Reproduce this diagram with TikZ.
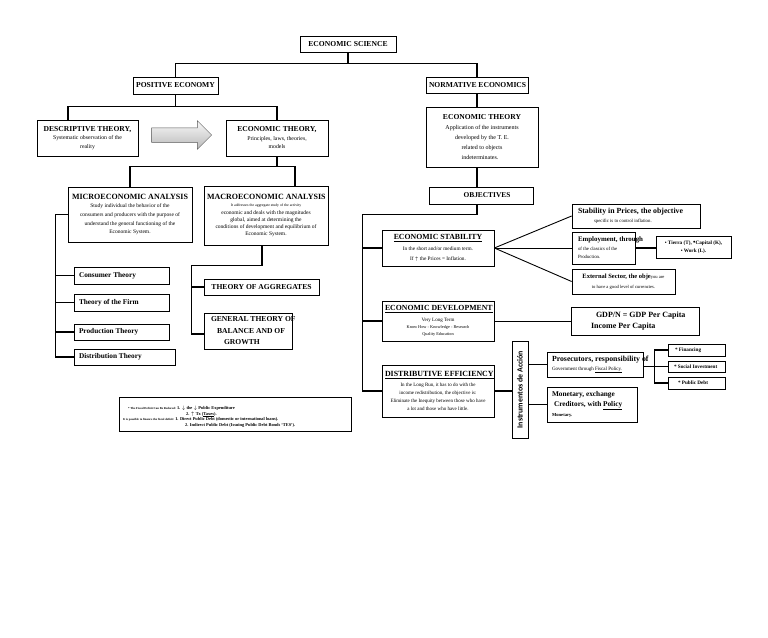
\documentclass[tikz,border=0pt]{standalone}
\usepackage{fontspec}
\setmainfont{Liberation Serif}
\newfontfamily\sansf{Carlito}
\usetikzlibrary{shapes.arrows}

\newcommand\boxtitle[2][7.6]{{\fontsize{#1}{9}\selectfont\bfseries\mbox{#2}\par}}
\newcommand\boxbody[3]{{\fontsize{#1}{#2}\selectfont #3\par}}

\tikzset{
  box/.style={draw, line width=0.75pt, inner xsep=3pt, inner ysep=0pt, align=flush center},
  sub/.style={box, align=flush left, inner xsep=5pt},
  conn/.style={line width=1.5pt},
  link/.style={line width=0.9pt},
  notetext/.style={anchor=west, inner sep=0pt, font=\bfseries}
}

\begin{document}
\begin{tikzpicture}[x=1pt, y=-1pt]
\path[use as bounding box, fill=white] (0,0) rectangle (768,637);

% top levels
\node[box, text width=90pt, minimum height=16pt] (sci) at (348,44) {\boxtitle{ECONOMIC SCIENCE}};
\node[box, text width=79pt, minimum height=17pt] (pos) at (175.5,85.5) {\boxtitle{POSITIVE ECONOMY}};
\node[box, text width=96pt, minimum height=16pt] (norm) at (477,85) {\boxtitle{NORMATIVE ECONOMICS}};

% positive economy
\node[box, text width=95pt, minimum height=36pt] (desc) at (87.5,138) {\boxtitle{DESCRIPTIVE THEORY,}\boxbody{5.8}{8.5}{Systematic observation of the\\reality}};
\node[box, text width=96pt, minimum height=36pt] (etheo) at (277,138) {\boxtitle{ECONOMIC THEORY,}\boxbody{5.8}{8.5}{Principles, laws, theories,\\models}};
\node[single arrow, draw=gray!70!black, line width=0.5pt, top color=gray!5, bottom color=gray!55, minimum height=60pt, single arrow head extend=7pt, inner xsep=0pt, inner ysep=7pt] (arr) at (178,135) {};

\node[box, text width=118pt, minimum height=55pt] (micro) at (130,214.5) {\boxtitle[8]{MICROECONOMIC ANALYSIS}\boxbody{5.5}{8.7}{Study individual the behavior of the\\consumers and producers with the purpose of\\understand the general functioning of the\\Economic System.}};
\node[box, text width=118pt, minimum height=59pt] (macro) at (266,215.5) {\boxtitle[8]{MACROECONOMIC ANALYSIS}\boxbody{3.8}{7.5}{It addresses the aggregate study of the activity}\boxbody{5.5}{7.2}{economic and deals with the magnitudes\\global, aimed at determining the\\conditions of development and equilibrium of\\Economic System.}};

\node[sub, text width=85pt, minimum height=17pt] (cons) at (121.5,275.5) {\boxtitle[7.3]{Consumer Theory}};
\node[sub, text width=85pt, minimum height=17pt] (firm) at (121.5,302.5) {\boxtitle[7.3]{Theory of the Firm}};
\node[sub, text width=85pt, minimum height=16pt] (prod) at (121.5,332) {\boxtitle[7.3]{Production Theory}};
\node[sub, text width=91pt, minimum height=16pt] (dist) at (124.5,357) {\boxtitle[7.3]{Distribution Theory}};

\node[box, text width=109pt, minimum height=16pt] (aggr) at (261.5,287) {\boxtitle{THEORY OF AGGREGATES}};
\node[box, align=flush left, inner xsep=7pt, text width=74pt, minimum height=36pt] (gen) at (248,331) {{\fontsize{7.6}{11.5}\selectfont\bfseries \mbox{GENERAL THEORY OF}\\\hspace*{6pt}\mbox{BALANCE AND OF}\\\hspace*{13pt}GROWTH\par}};

% normative economics
\node[box, text width=106pt, minimum height=60pt] (neth) at (482,137) {\boxtitle{ECONOMIC THEORY}\boxbody{6}{10}{Application of the instruments\hspace*{6pt}\\developed by the T. E.\hspace*{18pt}\\related to objects\hspace*{32pt}\\indeterminates.\hspace*{4pt}}};
\node[box, text width=98pt, minimum height=17pt] (obj) at (481,195.5) {\boxtitle[7.4]{\hspace*{12pt}OBJECTIVES}};

\node[box, text width=106pt, minimum height=36pt] (stab) at (438,248) {\boxtitle[7.8]{\underline{ECONOMIC STABILITY}}\boxbody{5.3}{10.5}{In the short and/or medium term.\\If $\uparrow$ the Prices = Inflation.}};
\node[box, text width=106pt, minimum height=40pt] (dev) at (438,321) {\boxtitle[7.8]{\underline{ECONOMIC DEVELOPMENT}}\boxbody{5}{11}{Very Long Term}\boxbody{4.3}{7}{Know How - Knowledge - Research\\Quality Education}};
\node[box, text width=106pt, minimum height=52pt] (deff) at (438,391) {\boxtitle[7.9]{\underline{DISTRIBUTIVE EFFICIENCY}}\vspace{2pt}\boxbody{5}{8.2}{In the Long Run, it has to do with the\\income redistribution, the objective is:\\\mbox{Eliminate the Inequity between those who have}\\a lot and those who have little.}};

\node[box, align=flush left, inner xsep=6pt, text width=116pt, minimum height=24pt] (price) at (636,216) {\boxtitle[7.8]{Stability in Prices, the objective}\boxbody{4.8}{8.5}{\hspace*{16pt}specific is to control inflation.}};
\node[box, align=flush left, inner xsep=6pt, text width=51pt, minimum height=32pt] (empl) at (603.5,248) {\boxtitle[6.9]{Employment, through}\boxbody{4.8}{8.5}{\mbox{of the classics of the}\\Production.}};
\node[box, text width=97pt, minimum height=25pt] (ext) at (623.5,281.5) {\boxtitle[6.5]{External Sector, the obje{\mdseries\fontsize{4.6}{9}\selectfont you are}}\boxbody{4.6}{10}{to have a good level of currencies.}};
\node[box, text width=69pt, minimum height=22pt] (land) at (693.5,247) {\boxbody{5.2}{8}{\bfseries \mbox{\textbullet{} Tierra (T), {\fontsize{7}{7}\selectfont\textbullet}Capital (K),}\\\textbullet{} Work (L).}};

\node[box, align=flush left, inner xsep=6pt, text width=116pt, minimum height=28pt] (gdp) at (635,321) {{\fontsize{8}{11}\selectfont\bfseries \hspace*{19pt}GDP/N = GDP Per Capita\\\hspace*{14pt}Income Per Capita\par}};

\node[box, rotate=90, minimum width=97pt, minimum height=16pt, inner sep=0pt, font=\sansf\bfseries\fontsize{7.9}{9}\selectfont] (instr) at (520,389.5) {Instrumentos de Acción};
\node[box, align=flush left, inner xsep=5pt, text width=86pt, minimum height=25pt] (fisc) at (595,364.5) {\boxtitle[7.8]{Prosecutors, responsibility of}\boxbody{5}{9}{\mbox{Government through \underline{Fiscal Policy.}}}};
\node[box, align=flush left, inner xsep=5pt, text width=80pt, minimum height=35pt] (mon) at (592,404.5) {{\fontsize{7.3}{10}\selectfont\bfseries \mbox{Monetary, exchange}\\\hspace*{2pt}\mbox{Creditors, with \underline{Policy}}\par}\boxbody{4.6}{10}{\bfseries Monetary.}};

\node[box, align=flush left, inner xsep=7pt, text width=43pt, minimum height=12pt] (fin) at (696.5,350) {\boxtitle[5.2]{* Financing}};
\node[box, align=flush left, inner xsep=6pt, text width=45pt, minimum height=11pt] (soc) at (696.5,366.5) {\boxtitle[5.2]{* Social Investment}};
\node[box, align=flush left, inner xsep=10pt, text width=37pt, minimum height=12pt] (debt) at (696.5,383) {\boxtitle[5.2]{* Public Debt}};

% note on the fiscal deficit
\node[box, minimum width=232pt, minimum height=34pt] (note) at (235,414) {};
\node[notetext] (fda) at (128,408) {{\fontsize{3}{4}\selectfont * The Fiscal Deficit Can Be Reduced: }{\fontsize{4.4}{5}\selectfont 1. $\downarrow$ the $\downarrow$ Public Expenditure}};
\node[notetext] (fdb) at (186,414.5) {\fontsize{4.4}{5}\selectfont 2. $\uparrow$ Tx (\underline{Taxes}).};
\node[notetext] (fdc) at (123,419.5) {{\fontsize{3}{4}\selectfont It is possible to finance the fiscal deficit: }{\fontsize{4.4}{5}\selectfont 1. Direct Public Debt (domestic or international loans).}};
\node[notetext] (fdd) at (185,425.5) {\fontsize{4.4}{5}\selectfont 2. Indirect Public Debt (Issuing Public Debt Bonds `TES').};

% connectors
\draw[conn] (sci.south) -- ++(0,12);
\draw[conn] (pos.north) -- ++(0,-13) -| (norm.north);
\draw[conn] (pos.south) -- ++(0,13);
\draw[conn] ([xshift=-19.5pt]desc.north) -- ++(0,-13) -| (etheo.north);
\draw[conn] (etheo.south) -- ++(0,11);
\draw[conn] (micro.north) -- ++(0,-20) -| ([xshift=29pt]macro.north);

\draw[conn] (micro.west) -- ++(-12,0) coordinate (mspine) |- (dist.west);
\foreach \n in {cons,firm,prod}
  \draw[conn] (mspine |- \n.west) -- (\n.west);

\draw[conn] ([xshift=-4pt]macro.south) -- ++(0,20) -| ([xshift=-12pt,yshift=-3pt]gen.west) -- ([yshift=-3pt]gen.west);
\draw[conn] ([xshift=-12pt]aggr.west) -- (aggr.west);

\draw[conn] (norm.south) -- (norm.south |- neth.north);
\draw[conn] (norm.south |- neth.south) -- (norm.south |- obj.north);
\draw[conn] (norm.south |- obj.south) -- ++(0,10) -| ([xshift=-19pt]deff.west) -- (deff.west);
\draw[conn] ([xshift=-19pt]stab.west) -- (stab.west);
\draw[conn] ([xshift=-19pt]dev.west) -- (dev.west);

\foreach \n in {price,empl,ext}
  \draw[link] (stab.east) -- (\n.west);
\draw[conn] (empl.east) -- (empl.east -| land.west);
\draw[link, line width=0.6pt] (dev.east) -- (gdp.west);

\draw[conn] (deff.east) -- (deff.east -| instr.north);
\draw[link] (instr.south |- fisc.west) -- (fisc.west);
\draw[conn] (instr.south |- mon.west) -- (mon.west);

\draw[conn] (fin.west) -- ++(-13,0) coordinate (fspine) |- (debt.west);
\draw[conn] (fisc.east |- soc.west) -- (soc.west);
\end{tikzpicture}
\end{document}
